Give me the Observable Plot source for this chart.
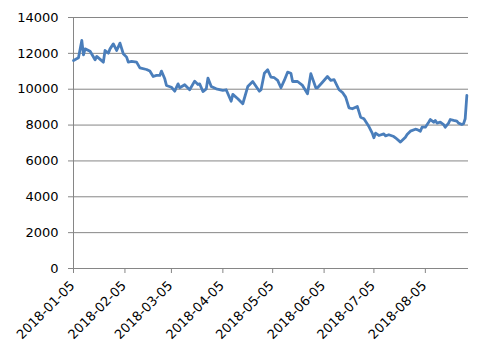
<!DOCTYPE html>
<html><head><meta charset="utf-8">
<script src="https://cdn.jsdelivr.net/npm/d3@7"></script>
<script src="https://cdn.jsdelivr.net/npm/@observablehq/plot@0.6"></script>
<style>html,body{margin:0;padding:0;background:#fff}#chart svg{display:block}</style>
</head><body><div id="chart"></div>
<script>
const dates = [
"2018-01-05","2018-01-08","2018-01-10","2018-01-11","2018-01-12","2018-01-15","2018-01-18","2018-01-19","2018-01-23","2018-01-24",
"2018-01-26","2018-01-27","2018-01-29","2018-01-31","2018-02-02","2018-02-04","2018-02-06","2018-02-07","2018-02-09","2018-02-12",
"2018-02-14","2018-02-18","2018-02-20","2018-02-22","2018-02-24","2018-02-26","2018-02-27","2018-03-01","2018-03-02","2018-03-05",
"2018-03-07","2018-03-09","2018-03-10","2018-03-13","2018-03-16","2018-03-19","2018-03-21","2018-03-22","2018-03-24","2018-03-26",
"2018-03-27","2018-03-29","2018-04-01","2018-04-05","2018-04-07","2018-04-10","2018-04-11","2018-04-14","2018-04-17","2018-04-20",
"2018-04-23","2018-04-27","2018-04-28","2018-04-30","2018-05-02","2018-05-04","2018-05-06","2018-05-08","2018-05-10","2018-05-12",
"2018-05-14","2018-05-16","2018-05-17","2018-05-20","2018-05-23","2018-05-26","2018-05-28","2018-05-31","2018-06-01","2018-06-04",
"2018-06-07","2018-06-09","2018-06-11","2018-06-14","2018-06-16","2018-06-18","2018-06-20","2018-06-22","2018-06-25","2018-06-27",
"2018-06-29","2018-07-02","2018-07-04","2018-07-05","2018-07-06","2018-07-08","2018-07-11","2018-07-12","2018-07-14","2018-07-17",
"2018-07-18","2018-07-21","2018-07-24","2018-07-25","2018-07-27","2018-07-30","2018-07-31","2018-08-02","2018-08-03","2018-08-05",
"2018-08-07","2018-08-08","2018-08-10","2018-08-11","2018-08-12","2018-08-14","2018-08-16","2018-08-17","2018-08-19","2018-08-20",
"2018-08-22","2018-08-24","2018-08-25","2018-08-27","2018-08-28","2018-08-29","2018-08-30"
];
const values = [
11600,11750,12720,11920,12250,12120,11640,11830,11510,12160,
12010,12250,12530,12160,12570,11980,11790,11510,11550,11510,
11190,11100,11010,10710,10770,10770,11010,10580,10210,10110,
9890,10300,10080,10250,9970,10450,10260,10300,9870,10020,
10620,10150,10020,9930,9970,9330,9710,9470,9190,10150,
10430,9890,9970,10890,11080,10670,10640,10490,10080,10490,
10950,10890,10430,10430,10210,9750,10870,10080,10080,10390,
10710,10490,10530,9970,9830,9560,8960,8910,9040,8440,
8350,7920,7550,7290,7550,7420,7510,7400,7460,7360,
7290,7050,7320,7470,7660,7770,7750,7660,7880,7880,
8160,8310,8160,8260,8110,8160,8030,7880,8110,8310,
8260,8220,8110,8030,8070,8350,9650
];
const xTickLabels = ["2018-01-05","2018-02-05","2018-03-05","2018-04-05","2018-05-05","2018-06-05","2018-07-05","2018-08-05"];
const yTicks = [0,2000,4000,6000,8000,10000,12000,14000];
const xRange = ["2018-01-05","2018-08-31"];

const parse = s => new Date(s + "T00:00:00Z");
const data = dates.map((d, i) => ({date: parse(d), value: values[i]}));
const xTickData = xTickLabels.map(s => ({date: parse(s), label: s}));
const gray = "#868686";

const chart = Plot.plot({
  width: 497, height: 359,
  marginLeft: 73, marginRight: 29, marginTop: 17, marginBottom: 91,
  style: {fontFamily: "'DejaVu Sans', sans-serif", fontSize: "13px", color: "#000", background: "#fff", overflow: "visible"},
  x: {type: "utc", domain: xRange.map(parse)},
  y: {domain: [0, 14000]},
  marks: [
    Plot.gridY(yTicks, {stroke: gray, strokeOpacity: 1, strokeWidth: 1}),
    Plot.ruleX([parse(xRange[0])], {stroke: gray, strokeWidth: 1}),
    Plot.ruleY([0], {stroke: gray, strokeWidth: 1}),
    Plot.axisY(yTicks, {tickSize: 5, tickPadding: 10, stroke: gray, fill: "#000", label: null, fontSize: 13, tickFormat: d => String(d)}),
    Plot.axisX(xTickData.map(d => d.date), {tickSize: 5, tickFormat: () => "", stroke: gray, label: null}),
    Plot.text(xTickData, {x: "date", frameAnchor: "bottom", text: "label", rotate: -45, textAnchor: "end", lineAnchor: "middle", dx: -1, dy: 15, fill: "#000", fontSize: 13}),
    Plot.lineY(data, {x: "date", y: "value", stroke: "#4A7EBB", strokeWidth: 2.8, strokeLinejoin: "round", strokeLinecap: "round"})
  ]
});
document.getElementById("chart").appendChild(chart);
</script>
</body></html>
